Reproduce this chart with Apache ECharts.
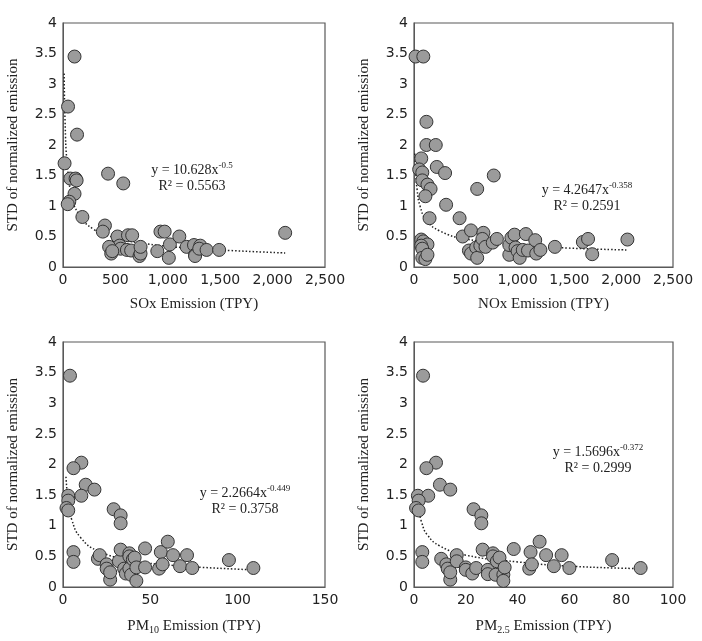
<!DOCTYPE html>
<html>
<head>
<meta charset="utf-8">
<script src="https://cdn.jsdelivr.net/npm/echarts@6/dist/echarts.min.js"></script>
<style>html,body{margin:0;padding:0;background:#fff}#main{width:702px;height:641px}</style>
</head>
<body>
<div id="main"></div>
<script>
'use strict';
// points: [emission, STD]
var soxPoints = [[110,3.45],[48,2.63],[134,2.17],[15,1.7],[70,1.45],[120,1.45],[130,1.42],[110,1.2],[60,1.07],[45,1.03],
    [185,0.82],[430,1.53],[575,1.37],[400,0.68],[380,0.58],[520,0.5],[540,0.35],[550,0.3],[440,0.33],[460,0.22],[470,0.26],
    [620,0.52],[660,0.52],[610,0.28],[650,0.27],[730,0.18],[740,0.22],[740,0.33],[900,0.26],[930,0.58],[970,0.58],
    [1010,0.15],[1020,0.37],[1110,0.5],[1180,0.33],[1250,0.36],[1260,0.2],[1260,0.18],[1310,0.35],[1300,0.3],
    [1370,0.28],[1490,0.28],[2120,0.56]];
var soxTrend = [[11,3.17],[20,2.38],[40,1.68],[80,1.19],[150,0.87],[300,0.61],[500,0.48],[800,0.38],[1200,0.31],[1600,0.27],[2120,0.23]];

var noxPoints = [[15,3.45],[90,3.45],[120,2.38],[120,2.0],[210,2.0],[70,1.78],[220,1.64],[50,1.6],[80,1.55],[300,1.54],
    [80,1.42],[130,1.35],[160,1.28],[110,1.16],[310,1.02],[150,0.8],[440,0.8],[770,1.5],[610,1.28],
    [70,0.45],[90,0.42],[130,0.37],[70,0.35],[80,0.3],[80,0.15],[110,0.13],[130,0.2],
    [470,0.5],[550,0.6],[530,0.27],[550,0.22],[600,0.32],[610,0.15],[640,0.35],[670,0.56],[660,0.46],[690,0.33],
    [760,0.4],[800,0.46],[920,0.2],[920,0.36],[940,0.48],[970,0.53],[980,0.32],[1000,0.26],[1020,0.15],[1050,0.28],
    [1080,0.54],[1100,0.27],[1170,0.44],[1180,0.22],[1220,0.28],[1360,0.33],[1630,0.41],[1680,0.46],[1720,0.21],[2060,0.45]];
var noxTrend = [[7,1.86],[15,1.62],[30,1.27],[60,0.99],[120,0.77],[250,0.59],[500,0.46],[1000,0.36],[1500,0.31],[2050,0.28]];

var pm10Points = [[4,3.45],[10.5,2.03],[6,1.94],[13,1.67],[18,1.59],[3,1.49],[10.5,1.49],[3,1.41],[2,1.29],[3,1.25],
    [29,1.27],[33,1.17],[33,1.04],[6,0.57],[6,0.41],[20,0.46],[21,0.52],[25,0.37],[25,0.3],[27,0.12],[27,0.24],
    [32,0.42],[33,0.61],[35,0.3],[36,0.22],[38,0.55],[38,0.5],[38,0.3],[39,0.2],[40,0.45],[41,0.48],[42,0.1],
    [42,0.32],[47,0.63],[47,0.32],[55,0.3],[56,0.57],[57,0.37],[60,0.74],[63,0.52],[67,0.34],[71,0.52],[74,0.31],
    [95,0.44],[109,0.31]];
var pm10Trend = [[1.7,1.8],[3,1.39],[5,1.1],[10,0.81],[20,0.59],[40,0.43],[60,0.36],[80,0.32],[109,0.28]];

var pm25Points = [[3.5,3.45],[8.5,2.03],[4.8,1.94],[10,1.67],[14,1.59],[1.5,1.49],[5.5,1.49],[1.8,1.41],[0.8,1.29],
    [1.8,1.25],[23,1.27],[26,1.17],[26,1.04],[3.2,0.57],[3.2,0.41],[10.5,0.46],[12.5,0.37],[13,0.3],[14,0.12],
    [14,0.24],[16.5,0.52],[16.5,0.42],[20,0.32],[20,0.28],[22.5,0.22],[24,0.31],[26.5,0.61],[28.5,0.28],[28.5,0.21],
    [30.5,0.55],[30.5,0.5],[31.5,0.2],[32,0.42],[33,0.48],[34.5,0.2],[34.5,0.1],[35,0.32],[38.5,0.62],[44.5,0.3],
    [45,0.57],[45.5,0.37],[48.5,0.74],[51,0.52],[54,0.34],[57,0.52],[60,0.31],[76.5,0.44],[87.5,0.31]];
var pm25Trend = [[1.8,1.26],[3,1.05],[5,0.86],[10,0.67],[20,0.52],[40,0.41],[60,0.34],[88,0.3]];

var xMax = [2500, 2500, 150, 100];
var xInterval = [500, 500, 50, 20];
var xNames = ['SOx Emission (TPY)', 'NOx Emission (TPY)', '{n|PM}{s|10}{n| Emission (TPY)}', '{n|PM}{s|2.5}{n| Emission (TPY)}'];
var eqCoef = ['10.628', '4.2647', '2.2664', '1.5696'];
var eqExp = ['-0.5', '-0.358', '-0.449', '-0.372'];
var rSquared = ['0.5563', '0.2591', '0.3758', '0.2999'];
var eqPos = [[192, 170], [587, 190], [245, 493], [598, 452]];

var pointSets = [soxPoints, noxPoints, pm10Points, pm25Points];
var trendSets = [soxTrend, noxTrend, pm10Trend, pm25Trend];
var grids = [
    {left: 63, top: 23, width: 262, height: 244},
    {left: 414, top: 23, width: 259, height: 244},
    {left: 63, top: 342, width: 262, height: 245},
    {left: 414, top: 342, width: 259, height: 245}
];

var serif = '"Liberation Serif", "Times New Roman", serif';
var chart = echarts.init(document.getElementById('main'));
var xAxes = [], yAxes = [], series = [], graphics = [];

for (var i = 0; i < 4; i++) {
    grids[i].show = true;
    grids[i].borderColor = '#595959';
    grids[i].borderWidth = 1.2;
    xAxes.push({
        type: 'value', gridIndex: i, min: 0, max: xMax[i], interval: xInterval[i],
        name: xNames[i], nameLocation: 'middle', nameGap: 30,
        nameTextStyle: {
            fontFamily: serif, fontSize: 15, color: '#222',
            rich: {n: {fontFamily: serif, fontSize: 15, color: '#222'}, s: {fontFamily: serif, fontSize: 10, color: '#222', padding: [8, 0, 0, 0]}}
        },
        splitLine: {show: false}, axisTick: {show: false},
        axisLine: {lineStyle: {color: '#595959'}},
        axisLabel: {color: '#222', fontSize: 14, fontFamily: 'DejaVu Sans', margin: 6}
    });
    yAxes.push({
        type: 'value', gridIndex: i, min: 0, max: 4, interval: 0.5,
        name: 'STD of normalized emission', nameLocation: 'middle', nameGap: 42,
        nameTextStyle: {fontFamily: serif, fontSize: 15, color: '#222'},
        splitLine: {show: false}, axisTick: {show: false},
        axisLine: {lineStyle: {color: '#595959'}},
        axisLabel: {color: '#222', fontSize: 14, fontFamily: 'DejaVu Sans', margin: 6}
    });
    series.push({
        type: 'line', xAxisIndex: i, yAxisIndex: i, data: trendSets[i], smooth: true,
        showSymbol: false, lineStyle: {color: '#222', width: 1.5, type: [1.5, 2]}, z: 1
    });
    series.push({
        type: 'scatter', xAxisIndex: i, yAxisIndex: i, data: pointSets[i], symbolSize: 13,
        itemStyle: {color: '#9b9b9b', borderColor: '#333', borderWidth: 1, opacity: 1}, z: 2
    });
    graphics.push({
        type: 'text', x: eqPos[i][0], y: eqPos[i][1],
        style: {
            text: '{n|y = ' + eqCoef[i] + 'x}{e|' + eqExp[i] + '}',
            align: 'center', verticalAlign: 'middle',
            rich: {n: {fontFamily: serif, fontSize: 14, fill: '#222'}, e: {fontFamily: serif, fontSize: 9, fill: '#222', padding: [0, 0, 9, 0]}}
        }
    });
    graphics.push({
        type: 'text', x: eqPos[i][0], y: eqPos[i][1] + 16,
        style: {text: 'R² = ' + rSquared[i], align: 'center', verticalAlign: 'middle', font: '14px ' + serif, fill: '#222'}
    });
}

chart.setOption({
    animation: false,
    grid: grids,
    xAxis: xAxes,
    yAxis: yAxes,
    series: series,
    graphic: graphics
});
</script>
</body>
</html>
